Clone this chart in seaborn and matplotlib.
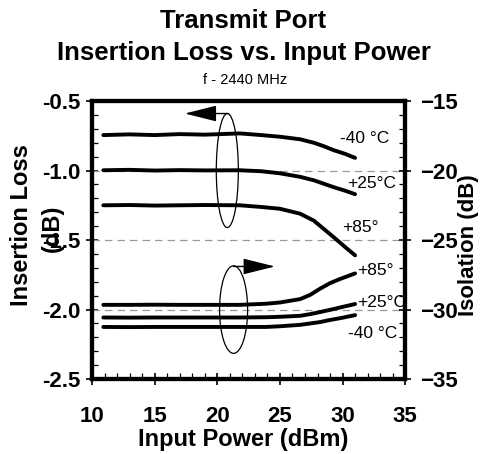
import matplotlib
matplotlib.use("Agg")
import matplotlib.pyplot as plt
from matplotlib.patches import Ellipse
from matplotlib.ticker import MultipleLocator
import pandas as pd
import seaborn as sns

# Insertion loss (left axis, dB) vs input power (dBm)
il_power = [10.9, 13, 15, 17, 19, 21.8, 23.5, 25, 26.6, 27.7, 28.5, 29.3, 30.2, 31]
il_m40 = [-0.745, -0.740, -0.745, -0.738, -0.742, -0.733, -0.745, -0.757, -0.775, -0.800, -0.825, -0.854, -0.880, -0.909]
il_p25 = [-0.998, -0.995, -1.000, -0.997, -0.999, -0.998, -1.005, -1.020, -1.045, -1.070, -1.095, -1.120, -1.145, -1.170]
il_p85 = [-1.250, -1.248, -1.252, -1.250, -1.248, -1.250, -1.262, -1.275, -1.310, -1.360, -1.420, -1.480, -1.550, -1.610]

# Isolation (right axis, dB)
iso_power = [10.9, 13, 15, 17, 19, 21.8, 23.9, 25, 26.6, 27.4, 28.2, 29, 29.8, 31]
iso_p85 = [-29.66, -29.66, -29.65, -29.66, -29.66, -29.66, -29.58, -29.49, -29.25, -28.95, -28.50, -28.10, -27.80, -27.40]
iso_p25 = [-30.57, -30.58, -30.57, -30.57, -30.57, -30.57, -30.55, -30.52, -30.45, -30.33, -30.18, -30.02, -29.85, -29.60]
iso_m40 = [-31.25, -31.26, -31.25, -31.25, -31.25, -31.25, -31.25, -31.20, -31.10, -31.00, -30.90, -30.75, -30.62, -30.40]

labels_il = ["-40 °C", "+25°C", "+85°"]
labels_iso = ["+85°", "+25°C", "-40 °C"]

sns.set_style("ticks")
plt.rcParams['font.family'] = ['Liberation Sans', 'DejaVu Sans']
plt.rcParams.update({"text.color": "black", "axes.labelcolor": "black",
                     "xtick.color": "black", "ytick.color": "black",
                     "axes.edgecolor": "black"})

fig = plt.figure(figsize=(4.87, 4.54), dpi=100)
ax = fig.add_axes([0.189, 0.165, 0.643, 0.6125])
ax2 = ax.twinx()

il_df = pd.DataFrame({"power": il_power * 3,
                      "loss": il_m40 + il_p25 + il_p85,
                      "temp": sum([[t] * len(il_power) for t in labels_il], [])})
iso_df = pd.DataFrame({"power": iso_power * 3,
                       "iso": iso_p85 + iso_p25 + iso_m40,
                       "temp": sum([[t] * len(iso_power) for t in labels_iso], [])})

# dashed reference lines
for yv in [-1.0, -1.5, -2.0]:
    ax.axhline(yv, color="#999999", lw=0.9, ls=(0, (6, 4)), zorder=1)

sns.lineplot(data=il_df, x="power", y="loss", units="temp", estimator=None,
             color="black", lw=2.8, ax=ax, legend=False, zorder=3)
sns.lineplot(data=iso_df, x="power", y="iso", units="temp", estimator=None,
             color="black", lw=2.8, ax=ax2, legend=False, zorder=3)

ax.set_xlim(10, 35)
ax.set_ylim(-2.5, -0.5)
ax2.set_ylim(-35, -15)

# curve labels
lab_fs = 12.5
ax.text(29.8, -0.77, labels_il[0], fontsize=lab_fs, va="center")
ax.text(30.4, -1.09, labels_il[1], fontsize=lab_fs, va="center")
ax.text(30.0, -1.41, labels_il[2], fontsize=lab_fs, va="center")
ax2.text(31.2, -27.2, labels_iso[0], fontsize=lab_fs, va="center")
ax2.text(31.2, -29.5, labels_iso[1], fontsize=lab_fs, va="center")
ax2.text(30.4, -31.7, labels_iso[2], fontsize=lab_fs, va="center")

# ellipses grouping the curves, with arrows pointing to the axis used
ax.add_patch(Ellipse((20.8, -1.0), 1.76, 0.82, fill=False, lw=0.9, ec="black", zorder=4))
ax.add_patch(Ellipse((21.3, -2.0), 2.24, 0.63, fill=False, lw=0.9, ec="black", zorder=4))
arrow = dict(arrowstyle="-|>,head_length=2.0,head_width=0.5", mutation_scale=10,
             lw=1, color="black", shrinkA=0, shrinkB=0)
ax.annotate("", xy=(17.4, -0.59), xytext=(20.9, -0.59), arrowprops=arrow, zorder=4)
ax.annotate("", xy=(24.6, -1.69), xytext=(21.3, -1.69), arrowprops=arrow, zorder=4)

# ticks
ax.set_xticks([10, 15, 20, 25, 30, 35])
ax.set_yticks([-2.5, -2.0, -1.5, -1.0, -0.5])
ax.set_yticklabels(["-2.5", "-2.0", "-1.5", "-1.0", "-0.5"])
ax2.set_yticks([-35, -30, -25, -20, -15])
ax.xaxis.set_minor_locator(MultipleLocator(1))
ax.yaxis.set_minor_locator(MultipleLocator(0.1))
ax2.yaxis.set_minor_locator(MultipleLocator(1))
for a in (ax, ax2):
    a.tick_params(which="major", direction="inout", length=9, width=1.2,
                  labelsize=16, pad=6)
    a.tick_params(which="minor", direction="in", length=4, width=0.9)
    for lab in a.get_yticklabels() + a.get_xticklabels():
        lab.set_fontweight("bold")
    for s in a.spines.values():
        s.set_linewidth(3)
        s.set_visible(True)
ax.tick_params(axis="x", which="major", pad=15)
ax.tick_params(axis="y", which="major", pad=4)
ax2.tick_params(axis="y", which="major", pad=6)
ax.set_xlabel("")
ax.set_ylabel("")
ax2.set_ylabel("")

# titles and axis labels
fig.text(0.5, 0.954, "Transmit Port", ha="center", va="center", fontsize=18.5, fontweight="bold")
fig.text(0.5, 0.883, "Insertion Loss vs. Input Power", ha="center", va="center",
         fontsize=18.5, fontweight="bold")
fig.text(0.503, 0.824, "f - 2440 MHz", ha="center", va="center", fontsize=10.5)
fig.text(0.5, 0.031, "Input Power (dBm)", ha="center", va="center", fontsize=17, fontweight="bold")
# y label is split over two columns, the second one sits on the -1.5 tick label as in the original
fig.text(0.045, 0.504, "Insertion Loss", ha="center", va="center", rotation=90,
         fontsize=17, fontweight="bold")
fig.text(0.107, 0.498, "(dB)", ha="center", va="center", rotation=90,
         fontsize=17, fontweight="bold")
fig.text(0.961, 0.46, "Isolation (dB)", ha="center", va="center", rotation=90,
         fontsize=16, fontweight="bold")

fig.savefig("out.png", dpi=100)
